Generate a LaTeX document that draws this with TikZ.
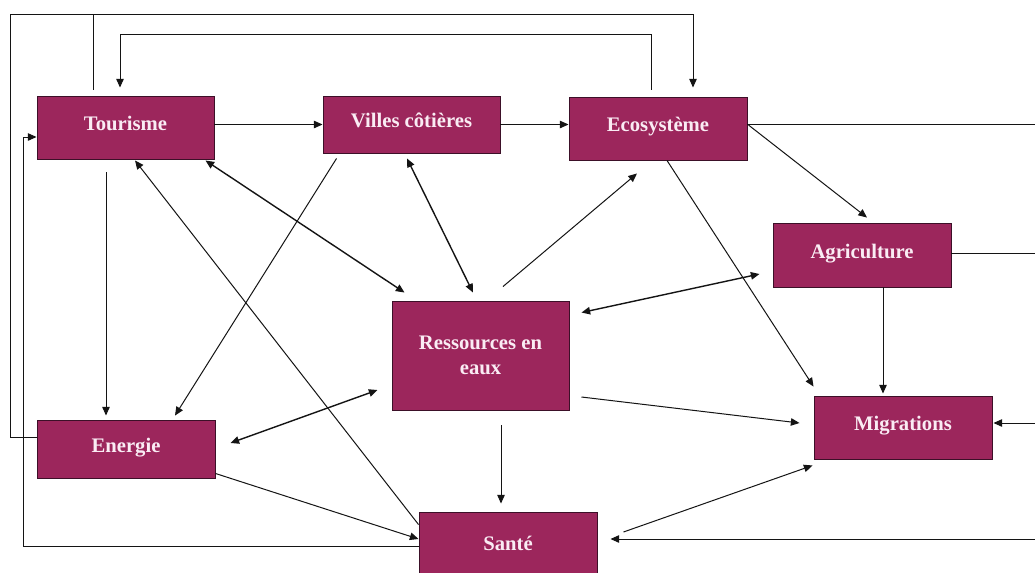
\documentclass[tikz,border=0pt]{standalone}
\usepackage{fontspec}
\setmainfont{Liberation Serif}
\usetikzlibrary{arrows.meta,calc}
\definecolor{boxfill}{RGB}{156,38,92}
\definecolor{boxline}{RGB}{60,16,40}
\definecolor{boxtext}{RGB}{250,236,244}
\definecolor{linecol}{RGB}{20,20,20}
\begin{document}
\begin{tikzpicture}[x=0.75pt,y=-0.75pt,
  box/.style 2 args={draw=boxline,line width=0.7pt,fill=boxfill,text=boxtext,
    font=\bfseries\fontsize{15.5}{19}\selectfont,align=center,inner sep=0pt,
    minimum width=#1*0.75pt,minimum height=#2*0.75pt},
  oneline/.style={text height=11pt,text depth=6pt},
  conn/.style={draw=linecol,line width=0.75pt},
  arr/.style={conn,-{Triangle[length=6.5pt,width=5.6pt]}},
  darr/.style={conn,line width=1.05pt,{Triangle[length=6.5pt,width=5.6pt]}-{Triangle[length=6.5pt,width=5.6pt]}}]
\useasboundingbox (0,0) rectangle (1035,572);
\fill[white] (0,0) rectangle (1035,572);
\begin{scope}
\clip (0,0) rectangle (1035,572);
% nodes
\node[box={177}{63},oneline] (tour) at (125.5,127.5) {Tourisme};
\node[box={177}{57},oneline] (vil) at (411.5,124.5) {Villes côtières};
\node[box={178}{63},oneline] (eco) at (658,128.5) {Ecosystème};
\node[box={178}{64},oneline] (agr) at (862,255) {Agriculture};
\node[box={177}{109}] (res) at (480.5,355.5) {Ressources en\\eaux};
\node[box={178}{58},oneline] (ene) at (126,449) {Energie};
\node[box={178}{62}] (san) at (508,543) {Santé};
\node[box={178}{63},oneline] (mig) at (903,427.5) {Migrations};
% free ends at the right edge
\coordinate (r1) at (1035,124);
\coordinate (r2) at (1035,253);
\coordinate (r3) at (1035,423);
\coordinate (r4) at (1035,539);
% outer loops
\draw[arr] ($(ene.west)+(0,-12)$) -| (10,14) -| ($(eco.north)+(35,-9)$);
\draw[conn] ($(tour.north)+(-32.5,-6)$) -- ($(tour.north)+(-32.5,-82)$);
\draw[arr] ($(eco.north)+(-7,-7)$) -- ++(0,-55) -| ($(tour.north)+(-5.5,-8)$);
\draw[arr] ($(san.west)+(0,3)$) -| ($(tour.west)+(-13,9.5)$) -- ($(tour.west)+(0,9.5)$);
% top row
\draw[arr] (tour.east |- vil.west) -- (vil.west);
\draw[arr] (vil.east) -- (vil.east -| eco.west);
\draw[conn] (eco.east |- r1) -- (r1);
\draw[conn] (agr.east |- r2) -- (r2);
\draw[arr] (r3) -- ($(mig.east)+(1,-4.5)$);
\draw[arr] (r4) -- ($(san.east)+(13,-4)$);
% diagonals
\draw[arr] ($(eco.east)+(1,-3.5)$) -- ($(agr.north)+(5,-5)$);
\draw[arr] ($(eco.south)+(9,0)$) -- ($(mig.north west)+(0,-9)$);
\draw[arr] ($(agr.south)+(21,0)$) -- ($(mig.north)+(-20,-2)$);
\draw[arr] ($(res.north)+(22.5,-14)$) -- ($(eco.south)+(-21,13)$);
\draw[darr] ($(res.north east)+(12,12)$) -- ($(agr.west)+(-13,19)$);
\draw[arr] ($(res.east)+(12,41.5)$) -- ($(mig.west)+(-14,-4.5)$);
\draw[arr] ($(res.south)+(20.5,15)$) -- ($(san.north)+(-7,-8)$);
\draw[darr] ($(ene.east)+(15,-6)$) -- ($(res.west)+(-14,34.5)$);
\draw[arr] ($(tour.south)+(-19.5,13)$) -- ($(ene.north)+(-20,-4)$);
\draw[arr] ($(vil.south west)+(14,5)$) -- ($(ene.north)+(49,-4)$);
\draw[arr] ($(san.north west)+(0,13)$) -- ($(tour.south)+(9.5,1)$);
\draw[darr] ($(tour.south east)+(-9,1)$) -- ($(res.north west)+(13,-8)$);
\draw[darr] ($(vil.south)+(-4.5,5)$) -- ($(res.north)+(-7.5,-8)$);
\draw[arr] ($(san.east)+(26,-11)$) -- ($(mig.south west)+(-1,6)$);
\draw[arr] ($(ene.south east)+(0,-5)$) -- ($(san.west)+(0,-4)$);
\end{scope}
\end{tikzpicture}
\end{document}
